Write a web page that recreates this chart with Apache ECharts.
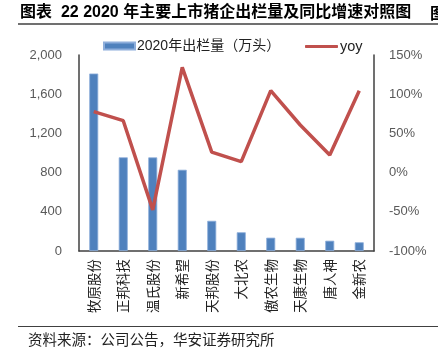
<!DOCTYPE html>
<html>
<head>
<meta charset="utf-8">
<script src="https://cdn.jsdelivr.net/npm/echarts@6/dist/echarts.min.js"></script>
<style>
html,body{margin:0;padding:0;background:#fff;}
#c{width:438px;height:355px;}
</style>
</head>
<body>
<div id="c"></div>
<script>
const categories = ['牧原股份','正邦科技','温氏股份','新希望','天邦股份','大北农','傲农生物','天康生物','唐人神','金新农'];
const output2020 = [1811, 956, 955, 829, 308, 191, 136, 135, 105, 89];
const yoy = [0.777, 0.662, -0.475, 1.343, 0.262, 0.139, 1.045, 0.607, 0.224, 1.045];
const leftTicks = [0, 400, 800, 1200, 1600, 2000];
const rightTicks = [-1, -0.5, 0, 0.5, 1, 1.5];

const barName = '2020年出栏量（万头）';
const lineName = 'yoy';
const cjk = '"Noto Sans CJK SC", "Liberation Sans", sans-serif';

const chart = echarts.init(document.getElementById('c'), null, {renderer:'canvas'});
chart.setOption({
  animation: false,
  backgroundColor: '#fff',
  textStyle: {fontFamily: cjk},
  legend: [
    {
      data: [barName], left: 98, top: 34, itemWidth: 31, itemHeight: 7, icon: 'rect',
      textStyle: {fontSize: 14, color: '#222', padding: [0,0,0,-3], fontFamily: '"Liberation Sans", "Noto Sans CJK SC", sans-serif'}
    },
    {
      data: [{name: lineName, icon: 'roundRect'}], left: 300, top: 34, itemWidth: 33, itemHeight: 3,
      textStyle: {fontSize: 14.5, color: '#222', padding: [0,0,0,-3], fontFamily: '"Liberation Sans", sans-serif'}
    }
  ],
  grid: {left: 79, right: 64, top: 55, bottom: 104, containLabel: false},
  xAxis: {
    type: 'category', data: categories,
    axisLine: {show: true, lineStyle: {color: '#404040', width: 1.5}},
    axisTick: {show: false},
    axisLabel: {rotate: 90, interval: 0, margin: 8, fontSize: 13.5, color: '#222', fontFamily: cjk}
  },
  yAxis: [
    {
      type: 'value', min: 0, max: 2000, interval: 400,
      axisLine: {show: true, lineStyle: {color: '#404040', width: 1.5}},
      axisTick: {show: false}, splitLine: {show: false},
      axisLabel: {margin: 17, fontSize: 13, color: '#595959', fontFamily: '"Liberation Sans", sans-serif',
        formatter: v => v.toLocaleString('en-US')}
    },
    {
      type: 'value', min: -1, max: 1.5, interval: 0.5,
      axisLine: {show: true, lineStyle: {color: '#404040', width: 1.5}},
      axisTick: {show: false}, splitLine: {show: false},
      axisLabel: {margin: 15, fontSize: 13, color: '#595959', fontFamily: '"Liberation Sans", sans-serif',
        formatter: v => Math.round(v * 100) + '%'}
    }
  ],
  series: [
    {
      name: barName, type: 'bar', data: output2020, barWidth: 9, yAxisIndex: 0,
      itemStyle: {color: '#4f81bd', borderColor: '#8eaedb', borderWidth: 0.8}
    },
    {
      name: lineName, type: 'line', data: yoy, yAxisIndex: 1, symbol: 'none',
      lineStyle: {color: '#c0504d', width: 3.5}, itemStyle: {color: '#c0504d'}
    }
  ],
  graphic: [
    {type: 'text', left: 20, top: 5, style: {text: '图表  22 2020 年主要上市猪企出栏量及同比增速对照图', fill: '#000', font: 'bold 16px "Liberation Sans", "Noto Sans CJK SC", sans-serif'}},
    {type: 'text', left: 430, top: 5, style: {text: '图', fill: '#000', font: 'bold 16px "Noto Sans CJK SC", sans-serif'}},
    {type: 'line', shape: {x1: 18, y1: 24, x2: 438, y2: 24}, style: {stroke: '#404040', lineWidth: 1.5}},
    {type: 'line', shape: {x1: 18, y1: 326.5, x2: 438, y2: 326.5}, style: {stroke: '#404040', lineWidth: 1.2}},
    {type: 'text', left: 28, top: 332, style: {text: '资料来源：公司公告，华安证券研究所', fill: '#222', font: '14.5px "Noto Sans CJK SC", sans-serif'}}
  ]
});
</script>
</body>
</html>
